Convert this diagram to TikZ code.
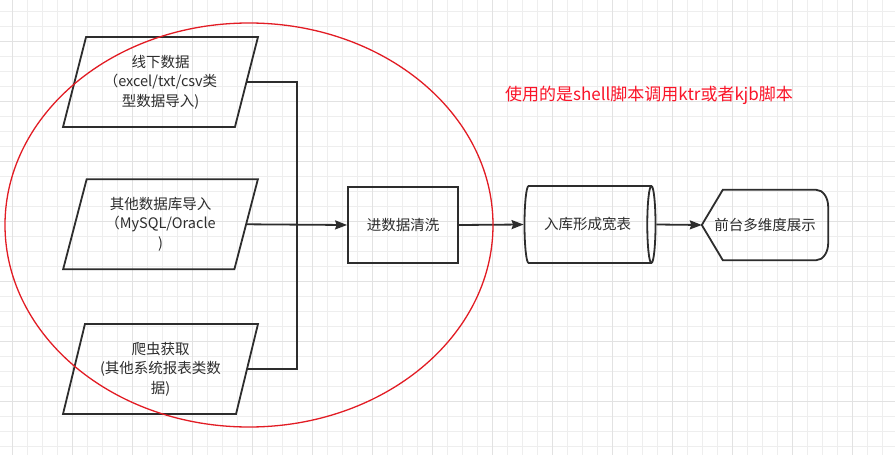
\documentclass[tikz,border=0pt]{standalone}
\usepackage{fontspec}
\setmainfont{Noto Sans CJK SC}
\usetikzlibrary{shapes.geometric,arrows.meta}

\definecolor{ink}{RGB}{45,45,45}
\definecolor{gridminor}{RGB}{238,238,238}
\definecolor{gridmajor}{RGB}{226,226,226}
\definecolor{ringred}{RGB}{226,28,36}
\definecolor{notered}{RGB}{250,20,40}

\newcommand*{\pagew}{895}
\newcommand*{\pageh}{455}

\begin{document}
\begin{tikzpicture}
[
	x=1pt, y=-1pt,
	every node/.style={text=ink, font=\fontsize{14.5}{19.5}\selectfont},
	datain/.style={trapezium, trapezium left angle=72, trapezium right angle=108, trapezium stretches=true, draw=ink, line width=1.8pt, minimum width=195pt, minimum height=90pt, inner sep=0pt, align=center},
	stepbox/.style={rectangle, draw=ink, line width=1.8pt, minimum width=110pt, minimum height=76pt},
	store/.style={cylinder, shape aspect=0.6, draw=ink, line width=1.8pt, minimum width=77pt, minimum height=131pt, inner sep=0pt},
	link/.style={draw=ink, line width=1.8pt},
	flow/.style={link, -{Stealth[length=12pt,width=9pt,inset=1.5pt]}},
]

	\useasboundingbox (0,0) rectangle (\pagew,\pageh);
	\fill[white] (0,0) rectangle (\pagew,\pageh);

	% grid
	\foreach \gx in {0,...,58} \draw[gridminor, line width=0.8pt] (12.3+15*\gx,0) -- (12.3+15*\gx,\pageh);
	\foreach \gy in {0,...,29} \draw[gridminor, line width=0.8pt] (0,11.7+15*\gy) -- (\pagew,11.7+15*\gy);
	\foreach \gx in {0,...,14} \draw[gridmajor, line width=0.8pt] (12.3+60*\gx,0) -- (12.3+60*\gx,\pageh);
	\foreach \gy in {0,...,7} \draw[gridmajor, line width=0.8pt] (0,41.7+60*\gy) -- (\pagew,41.7+60*\gy);

	% sources
	\node[datain] at (160.5,82) (offline) {线下数据\\（excel/txt/csv类\\型数据导入)};
	\node[datain] at (160.5,224.3) (other) {其他数据库导入\\（MySQL/Oracle\\)};
	\node[datain] at (160.5,369) (crawl) {爬虫获取\\(其他系统报表类数\\据)};

	% pipeline
	\node[stepbox] at (403,225) (clean) {进数据清洗};
	\node[store] at (587.5,224.5) (widetable) {入库形成宽表};
	\node[minimum width=126pt, minimum height=70pt, inner sep=0pt] at (765,225) (show) {前台多维度展示};
	\draw[link] (show.west) -- ([xshift=21pt]show.north west) -- ([xshift=-12pt]show.north east)
		arc[start angle=90, end angle=0, x radius=12pt, y radius=17pt] -- ([yshift=17pt]show.south east)
		arc[start angle=0, end angle=-90, x radius=12pt, y radius=17pt] -- ([xshift=21pt]show.south west) -- cycle;

	% connectors
	\coordinate (bus) at (297,224.3);
	\draw[link] (offline.east) -| (bus) |- (crawl.east);
	\draw[flow] (other.east) -- (clean.west);
	\draw[flow] (clean.east) -- (widetable.west);
	\draw[flow] (widetable.east) -- (show.west);

	% note
	\draw[ringred, line width=1.3pt] (249,225) ellipse [x radius=244pt, y radius=202pt];
	\node[text=notered, font=\fontsize{17}{20}\selectfont] at (649,95) (note) {使用的是shell脚本调用ktr或者kjb脚本};

\end{tikzpicture}
\end{document}
